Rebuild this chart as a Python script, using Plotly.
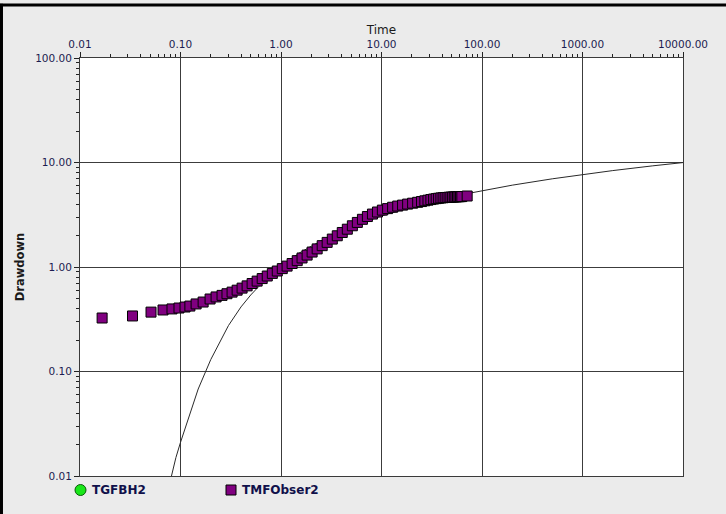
import plotly.graph_objects as go

# Observed drawdown data (TMFObser2)
obs_time = [0.0166, 0.0333, 0.0509, 0.0670, 0.0823, 0.0966, 0.111, 0.124, 0.143, 0.168,
            0.197, 0.226, 0.259, 0.290, 0.326, 0.366, 0.410, 0.460, 0.516, 0.579,
            0.650, 0.730, 0.820, 0.918, 1.03, 1.15, 1.29, 1.45, 1.62, 1.82,
            2.04, 2.29, 2.57, 2.88, 3.24, 3.63, 4.07, 4.57, 5.13, 5.75,
            6.46, 7.24, 8.13, 9.12, 10.2, 11.5, 12.9, 14.5, 16.2, 18.2,
            20.4, 22.9, 25.0, 27.0, 29.0, 31.0, 33.0, 35.0, 37.0, 39.0,
            41.0, 43.0, 45.0, 47.0, 49.0, 51.0, 53.0, 55.0, 57.0, 59.0,
            61.0, 63.0, 71.2]
obs_drawdown = [0.325, 0.340, 0.370, 0.388, 0.397, 0.405, 0.414, 0.423, 0.443, 0.462,
                0.494, 0.517, 0.535, 0.555, 0.575, 0.600, 0.628, 0.660, 0.695, 0.733,
                0.775, 0.820, 0.868, 0.915, 0.965, 1.02, 1.08, 1.15, 1.22, 1.30,
                1.39, 1.49, 1.60, 1.72, 1.85, 1.99, 2.14, 2.30, 2.48, 2.67,
                2.86, 3.04, 3.21, 3.36, 3.50, 3.62, 3.73, 3.83, 3.91, 4.00,
                4.08, 4.16, 4.23, 4.30, 4.36, 4.42, 4.47, 4.51, 4.55, 4.58,
                4.60, 4.62, 4.63, 4.65, 4.66, 4.67, 4.68, 4.69, 4.70, 4.71,
                4.71, 4.72, 4.78]

# Type curve (thin line)
curve_time = [0.07, 0.08, 0.09, 0.1, 0.12, 0.15, 0.2, 0.25, 0.3, 0.4, 0.5, 0.6, 0.8, 1, 1.5,
              2, 3, 5, 7, 10, 20, 30, 50, 70, 100, 200, 500, 1000, 2000, 5000, 10000]
curve_drawdown = [0.0055, 0.0095, 0.015, 0.021, 0.036, 0.068, 0.13, 0.2, 0.275, 0.415, 0.54,
                  0.65, 0.85, 1.02, 1.35, 1.58, 1.95, 2.42, 2.74, 3.08, 3.76, 4.16, 4.68,
                  5.02, 5.37, 6.07, 6.98, 7.68, 8.37, 9.29, 9.98]

x_tickvals = [0.01, 0.1, 1, 10, 100, 1000, 10000]
x_ticktext = ["0.01", "0.10", "1.00", "10.00", "100.00", "1000.00", "10000.00"]
y_tickvals = [0.01, 0.1, 1, 10, 100]
y_ticktext = ["0.01", "0.10", "1.00", "10.00", "100.00"]

legend_names = ["TGFBH2", "TMFObser2"]
legend_colors = ["#19e619", "#800080"]

minor_x = [m * 10 ** e for e in range(-2, 4) for m in range(2, 10)]
minor_y = [m * 10 ** e for e in range(-2, 2) for m in range(2, 10)]

FONT = "DejaVu Sans"
LABEL_COLOR = "#1c1c50"
TICK_FONT = dict(family=FONT, size=10.5, color=LABEL_COLOR)

fig = go.Figure()
fig.add_trace(go.Scatter(x=curve_time, y=curve_drawdown, mode="lines",
                         line=dict(color="#2a2a2a", width=1), showlegend=False,
                         hoverinfo="skip"))
fig.add_trace(go.Scatter(x=obs_time, y=obs_drawdown, mode="markers", name=legend_names[1],
                         marker=dict(symbol="square", size=10, color=legend_colors[1],
                                     line=dict(color="#000000", width=1)),
                         showlegend=False, cliponaxis=False))

axis_common = dict(
    type="log", showgrid=True, gridcolor="#3c3c3c", gridwidth=1,
    showline=True, linecolor="#3a3a3a", linewidth=1, mirror=True,
    ticks="outside", ticklen=5, tickcolor="#222222", tickwidth=1,
    tickfont=TICK_FONT, zeroline=False,
)

fig.update_xaxes(**axis_common, side="top", range=[-2, 4],
                 tickmode="array", tickvals=x_tickvals, ticktext=x_ticktext,
                 minor=dict(tickmode="array", tickvals=minor_x, ticks="outside",
                            ticklen=3, tickcolor="#222222", showgrid=False),
                 title=dict(text="Time", font=dict(family=FONT, size=12, color="#1a1a1a"),
                            standoff=0))
fig.update_yaxes(**axis_common, range=[-2, 2],
                 tickmode="array", tickvals=y_tickvals, ticktext=y_ticktext,
                 minor=dict(tickmode="array", tickvals=minor_y, ticks="outside",
                            ticklen=3, tickcolor="#222222", showgrid=False),
                 title=dict(text="<b>Drawdown</b>", font=dict(family=FONT, size=11.5, color="#1a1a1a"),
                            standoff=8))

shapes = [
    # legend symbols
    dict(type="circle", xref="paper", yref="paper", xsizemode="pixel", ysizemode="pixel",
         xanchor=0, yanchor=0, x0=-5, x1=6, y0=-19.5, y1=-8.5,
         fillcolor=legend_colors[0], line=dict(color="#0a5a0a", width=1)),
    dict(type="rect", xref="paper", yref="paper", xsizemode="pixel", ysizemode="pixel",
         xanchor=0, yanchor=0, x0=146, x1=156, y0=-19, y1=-9,
         fillcolor=legend_colors[1], line=dict(color="#000000", width=1)),
    # outer frame lines
    dict(type="line", xref="paper", yref="paper", x0=-0.14, x1=1.08, y0=1.127, y1=1.127,
         line=dict(color="#000000", width=3)),
    dict(type="line", xref="paper", yref="paper", x0=-0.1302, x1=-0.1302, y0=-0.1, y1=1.13,
         line=dict(color="#000000", width=3)),
]
annotations = [
    dict(text="<b>%s</b>" % legend_names[0], xref="paper", yref="paper", x=0, y=0,
         xanchor="left", yanchor="middle", xshift=10, yshift=-14, showarrow=False,
         font=dict(family=FONT, size=12, color="#10104a")),
    dict(text="<b>%s</b>" % legend_names[1], xref="paper", yref="paper", x=0, y=0,
         xanchor="left", yanchor="middle", xshift=160, yshift=-14, showarrow=False,
         font=dict(family=FONT, size=12, color="#10104a")),
]

fig.update_layout(
    width=726, height=514,
    margin=dict(l=80, r=43, t=58, b=38),
    paper_bgcolor="#ebebeb", plot_bgcolor="#ffffff",
    showlegend=False, shapes=shapes, annotations=annotations,
    font=dict(family=FONT, color=LABEL_COLOR),
)

fig.write_html("out.html", config={"displayModeBar": False},
               post_script="document.body.style.margin='0';")
